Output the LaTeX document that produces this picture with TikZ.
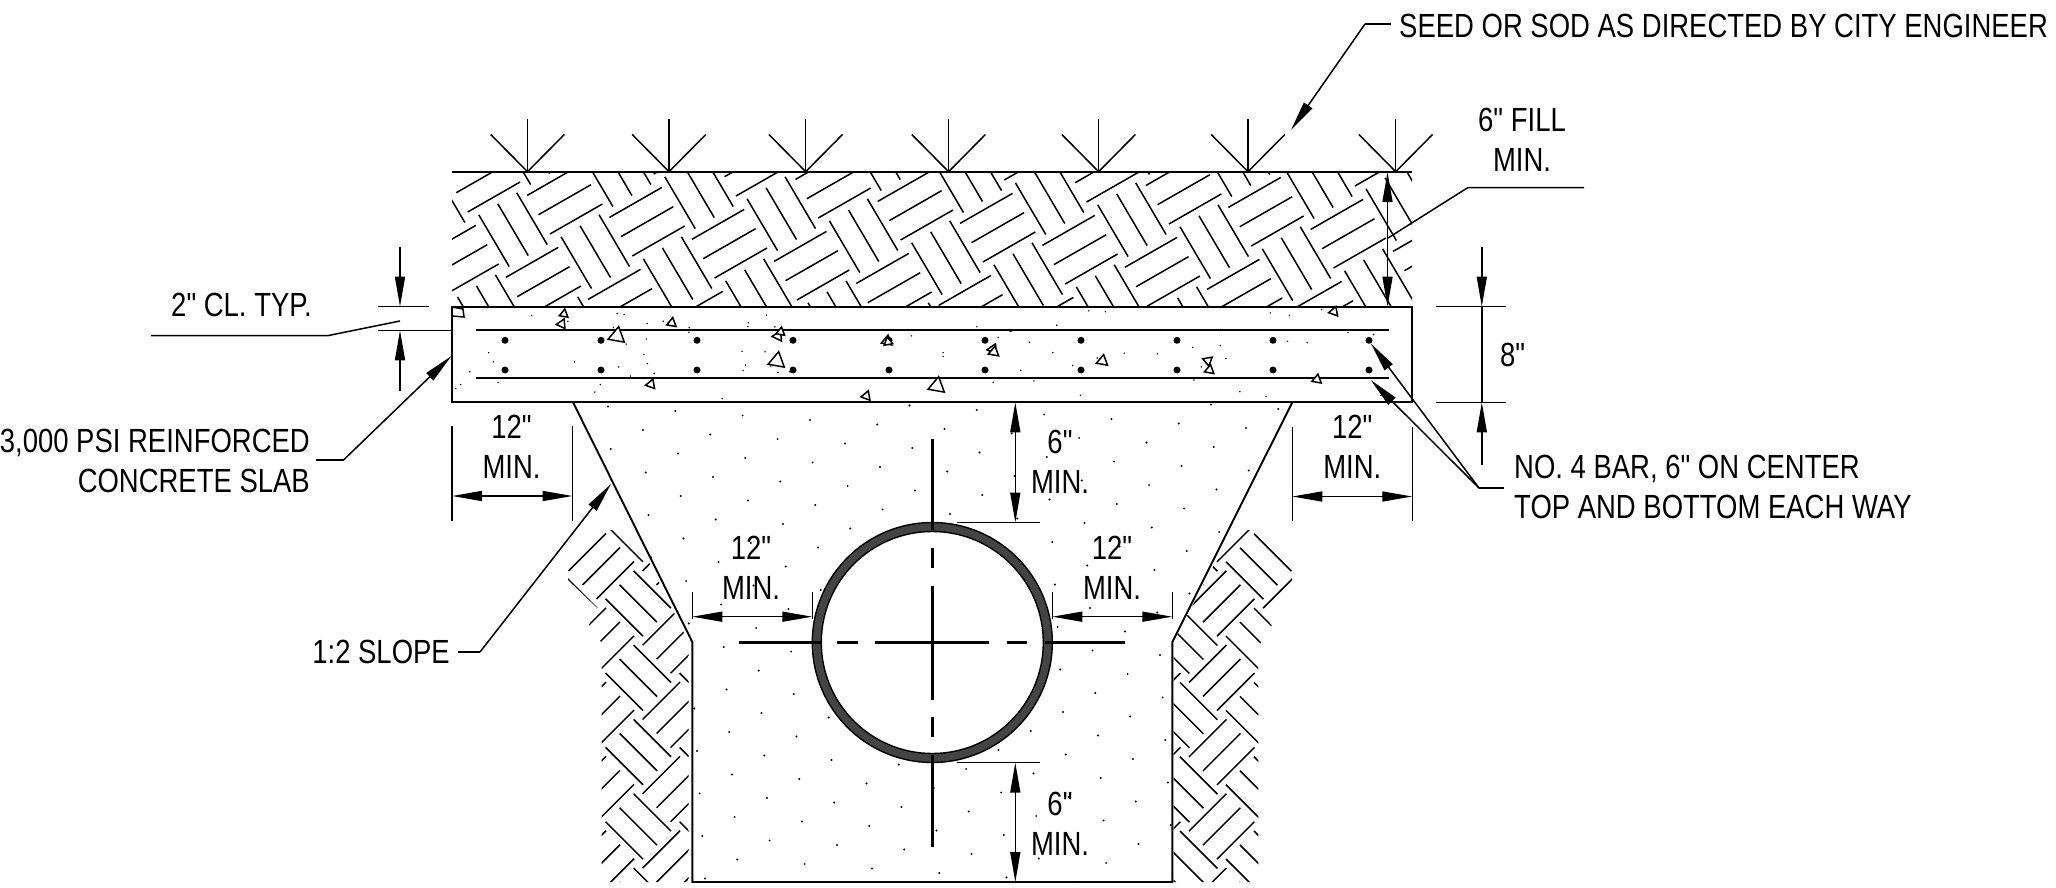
\documentclass[tikz,border=0pt]{standalone}
\usepackage{fontspec}
\setmainfont[FakeStretch=0.82,Ligatures=TeXOff]{Liberation Sans}
\usetikzlibrary{arrows.meta}
\definecolor{ringgray}{HTML}{444444}
\tikzset{
  txt/.style={inner sep=0pt,font=\fontsize{33.5}{40}\selectfont,text=black},
  outline/.style={draw=black,line width=1.9pt},
  hatch/.style={draw=black,line width=1.5pt},
  thin line/.style={draw=black,line width=1.5pt},
  centre/.style={draw=black,line width=2.8pt},
  dim/.style={thin line,{Triangle[length=30pt,width=10pt]}-{Triangle[length=30pt,width=10pt]}},
  dimend/.style={thin line,-{Triangle[length=30pt,width=10pt]}},
  agg/.style={draw=black,line width=1.5pt,fill=white}
}
\newcommand{\aggr}[4]{\draw[agg] ({#1+#3*cos(90+#4)},{#2-#3*sin(90+#4)}) -- ({#1+#3*cos(210+#4)},{#2-#3*sin(210+#4)}) -- ({#1+#3*cos(330+#4)},{#2-#3*sin(330+#4)}) -- cycle;}
\newcommand{\sidebasket}[2]{%
  \foreach \i in {-3,...,3}{\foreach \j in {-4,...,6}{%
    \pgfmathsetmacro{\cx}{#1+74*\i}\pgfmathsetmacro{\cy}{#2+74.3*\j}%
    \foreach \o in {-1,0,1}{%
      \draw[hatch] ({\cx+14*\o-18.7},{\cy-14*\o-18.7}) -- ({\cx+14*\o+18.7},{\cy-14*\o+18.7});
      \draw[hatch] ({\cx+37+14*\o-18.7},{\cy+37+14*\o+18.7}) -- ({\cx+37+14*\o+18.7},{\cy+37+14*\o-18.7});
    }}}}
\begin{document}
\begin{tikzpicture}[x=1pt,y=-1pt]
\path[use as bounding box,fill=white] (0,0) rectangle (2056,888);

% soil hatch
\begin{scope}
\clip (452,172) rectangle (1412,306.7);
\foreach \i in {-4,...,13}{\foreach \j in {-4,...,5}{%
  \pgfmathsetmacro{\cx}{513+82.3*\i+21.4*\j}\pgfmathsetmacro{\cy}{229.7+22*\i-82*\j}%
  \foreach \o in {-1,0,1}{%
    \draw[hatch] ({\cx+19*\o-15.2},{\cy-11*\o-25.85}) -- ({\cx+19*\o+15.2},{\cy-11*\o+25.85});
    \draw[hatch] ({\cx+30.4+11.4*\o-26.2},{\cy+52+19.3*\o+15}) -- ({\cx+30.4+11.4*\o+26.2},{\cy+52+19.3*\o-15});
  }}}
\end{scope}

% side hatches
\begin{scope}
\clip (605,530) -- (633,530) -- (688.5,642) -- (688.5,882) -- (601.7,882) -- (601.7,643) -- (589,625) -- (597,607.7) -- (568,580) -- (568,570) -- cycle;
\sidebasket{638.3}{677.8}
\end{scope}
\begin{scope}
\clip (1232,530) -- (1254,530) -- (1292,568) -- (1292,582) -- (1263.3,610) -- (1271.7,625.7) -- (1258.3,646.7) -- (1258.3,882) -- (1173.5,882) -- (1173.5,642) -- cycle;
\sidebasket{1258.7}{566.5}
\end{scope}

% concrete stipple, trench
\begin{scope}
\clip (573,402) -- (692.3,642) -- (692.3,882) -- (1172.3,882) -- (1172.3,642) -- (1292.3,402) -- cycle;
\foreach \i in {-6,...,24}{\foreach \j in {-8,...,22}{%
  \fill[black] ({680.7+67.3*\i-32.3*\j},{496+4.5*\i+19*\j}) circle (1.1pt);
}}
\end{scope}
% concrete stipple, slab
\begin{scope}
\clip (452,306.7) rectangle (1412,402.3);
\pgfmathsetseed{11}
\foreach \n in {1,...,75}{%
  \pgfmathsetmacro{\rx}{455+950*rnd}\pgfmathsetmacro{\ry}{309+91*rnd}%
  \fill[black] (\rx,\ry) circle (0.8pt);
}
\end{scope}

% slab
\draw[outline] (452,306.7) rectangle (1412,402.3);
\draw[outline] (452,171.7) -- (1412,171.7);
\draw[outline] (476,330.3) -- (1388.6,330.3);
\draw[outline] (476,378.3) -- (1388.6,378.3);
\foreach \x in {505,601,697,793,889,985,1081,1177,1273,1369}{%
  \fill[black] (\x,340.3) circle (3.5pt);
  \fill[black] (\x,370) circle (3.5pt);
}

% aggregate
\draw[agg] (452,307) -- (463,309) -- (464,317) -- (452,316) -- cycle;
\aggr{564}{314}{5}{-10}
\aggr{561.8}{324}{5.5}{95}
\aggr{617}{336}{9.5}{-10}
\aggr{671.8}{323}{5.5}{-10}
\aggr{778}{336}{6}{95}
\aggr{780.7}{332}{5}{-10}
\aggr{777}{361}{9.5}{-10}
\aggr{887}{341}{6}{-10}
\aggr{888}{342}{5}{10}
\aggr{651}{384.3}{5.5}{100}
\aggr{937}{386}{9.5}{-10}
\aggr{866.4}{396}{5.5}{100}
\aggr{1334}{311.7}{5.5}{100}
\aggr{992.9}{349.3}{6}{95}
\aggr{994}{352}{6}{-10}
\aggr{1102.5}{361}{6.5}{-10}
\aggr{1207.9}{360.7}{5.5}{190}
\aggr{1209.6}{370}{5.5}{-10}
\aggr{1317}{379.5}{5.5}{-10}

% grass
\foreach \x in {527.5,669,805.7,948.6,1098.6,1248,1395.7}{%
  \draw[thin line] (\x,119) -- (\x,171.7);
  \draw[thin line] (\x-36.8,134.5) -- (\x,171.7) -- (\x+36.8,134.5);
}

% trench
\draw[outline] (573,402.3) -- (692.3,642) -- (692.3,882) -- (1172.3,882) -- (1172.3,642) -- (1292.3,402.3);

% pipe
\node[circle,minimum size=240pt,inner sep=0pt,draw=black,line width=1.4pt,fill=ringgray] (pipeo) at (932.3,642.5) {};
\node[circle,minimum size=222pt,inner sep=0pt,draw=black,line width=1.4pt,fill=white] (pipei) at (932.3,642.5) {};
\draw[centre] (932.3,439) -- (932.3,530);
\draw[centre] (932.3,755) -- (932.3,846.7);
\draw[centre] (739,642.5) -- (821,642.5);
\draw[centre] (1045,642.5) -- (1125,642.5);
\draw[centre] (932.3,548.3) -- (932.3,568.3);
\draw[centre] (932.3,586) -- (932.3,700);
\draw[centre] (932.3,716.7) -- (932.3,737.3);
\draw[centre] (837.3,642.5) -- (858.3,642.5);
\draw[centre] (875,642.5) -- (989,642.5);
\draw[centre] (1006.7,642.5) -- (1026.7,642.5);

% dimensions
\draw[thin line] (452,426) -- (452,520.5);
\draw[thin line] (572.6,426) -- (572.6,520.5);
\draw[dim] (452,496) -- (572.6,496);
\draw[thin line] (1292.3,426.7) -- (1292.3,521);
\draw[thin line] (1412.3,426.7) -- (1412.3,521);
\draw[dim] (1292.3,496.5) -- (1412.3,496.5);
\draw[thin line] (692.3,592.3) -- (692.3,619);
\draw[thin line] (812.3,592.3) -- (812.3,619);
\draw[dim] (692.3,616.7) -- (812.3,616.7);
\draw[thin line] (1052.3,592.3) -- (1052.3,619);
\draw[thin line] (1172.3,592.3) -- (1172.3,619);
\draw[dim] (1052.3,616.7) -- (1172.3,616.7);
\draw[thin line] (956.7,522.5) -- (1040,522.5);
\draw[thin line] (956.7,762.7) -- (1040,762.7);
\draw[dim] (1015.3,402.3) -- (1015.3,522.5);
\draw[dim] (1015.3,762.7) -- (1015.3,882);
\draw[dim] (1387.5,172) -- (1387.5,306.7);
\draw[thin line] (1435.7,306.7) -- (1506.4,306.7);
\draw[thin line] (1435.7,402.3) -- (1506.4,402.3);
\draw[dimend] (1481.8,246.5) -- (1481.8,306.7);
\draw[thin line] (1481.8,306.7) -- (1481.8,402.3);
\draw[dimend] (1481.8,465) -- (1481.8,402.3);
\draw[thin line] (378,306.7) -- (429,306.7);
\draw[thin line] (378,330.3) -- (452,330.3);
\draw[dimend] (400,246.5) -- (400,306.7);
\draw[dimend] (400,390.7) -- (400,330.3);

% labels
\node[txt,anchor=west] (seed) at (1399,26) {SEED OR SOD AS DIRECTED BY CITY ENGINEER};
\node[txt,align=center] (fill) at (1522,139.5) {6" FILL\\MIN.};
\node[txt,anchor=east] (cl) at (312,305) {2" CL. TYP.};
\node[txt,align=right,anchor=east] (slab) at (310,461) {3,000 PSI REINFORCED\\CONCRETE SLAB};
\node[txt,align=center] (d1) at (511.5,447) {12"\\MIN.};
\node[txt,align=center] (d2) at (1352.3,447) {12"\\MIN.};
\node[txt,align=center] (d3) at (1060,462) {6"\\MIN.};
\node[txt,align=center] (d4) at (1060,824) {6"\\MIN.};
\node[txt,align=center] (d5) at (751,567.5) {12"\\MIN.};
\node[txt,align=center] (d6) at (1112,567.5) {12"\\MIN.};
\node[txt,anchor=west] (eight) at (1500,355) {8"};
\node[txt,anchor=west,align=left] (bar) at (1514,487) {NO. 4 BAR, 6" ON CENTER\\TOP AND BOTTOM EACH WAY};
\node[txt,anchor=east] (slope) at (450,652) {1:2 SLOPE};

% leaders
\coordinate (ls) at (1365,24);
\draw[thin line] (seed.west)++(-8,-2) -- (ls);
\draw[dimend] (ls) -- (1291,130);
\draw[thin line] (1584,187.5) -- (1468,187.5) -- (1388,238);
\draw[thin line] (151,335.6) -- (328,335.6) -- (400,321);
\coordinate (lslab) at (343.5,460);
\draw[thin line] (316,460) -- (lslab);
\draw[dimend] (lslab) -- (451.4,356);
\coordinate (lbar) at (1479,488);
\draw[thin line] (1504,488) -- (lbar);
\draw[dimend] (lbar) -- (1370.7,343.3);
\draw[dimend] (lbar) -- (1370.7,380);
\coordinate (lslope) at (480,652);
\draw[thin line] (457.5,652) -- (lslope);
\draw[dimend] (lslope) -- (611,484);
\end{tikzpicture}
\end{document}
